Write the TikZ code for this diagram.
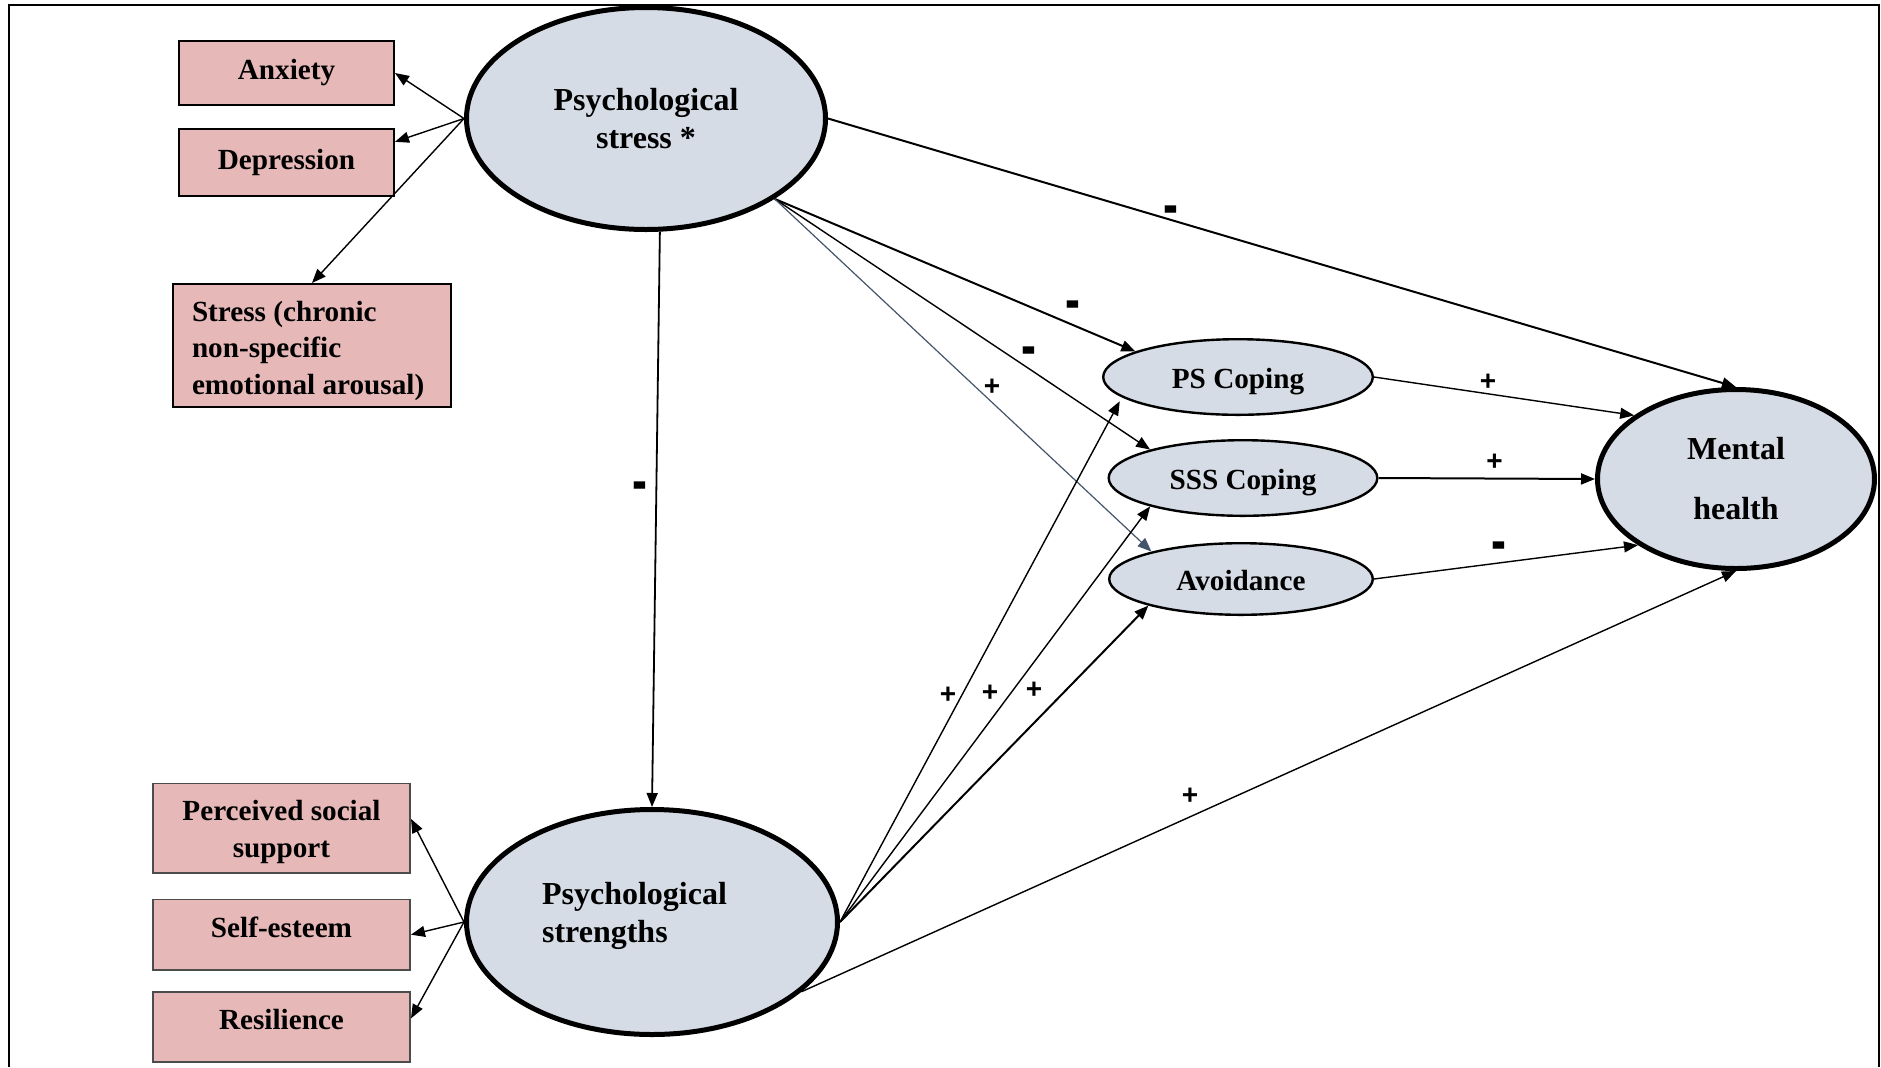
\documentclass[tikz,border=0pt]{standalone}
\usepackage{fontspec}
\usepackage{graphicx}
\setmainfont{Liberation Serif}
\newfontfamily\signfont{Liberation Sans}
\usetikzlibrary{shapes.geometric, arrows.meta, calc}
\definecolor{boxpink}{HTML}{E6B8B7}
\definecolor{latentfill}{HTML}{D6DCE5}
\definecolor{slate}{HTML}{44546A}
\newcommand\negsign{\scalebox{1.6}[2.2]{-}}

\begin{document}
\begin{tikzpicture}[x=0.5pt, y=-0.5pt,
  bigtext/.style={font=\fontsize{16}{19}\selectfont\bfseries},
  smalltext/.style={font=\fontsize{14.6}{18.5}\selectfont\bfseries},
  latent/.style={ellipse, draw=black, fill=latentfill, line width=2.5pt,
    inner sep=0pt, bigtext, align=center},
  coping/.style={ellipse, draw=black, fill=latentfill, line width=1.2pt,
    inner sep=0pt, smalltext, text height=11.8pt, text depth=0pt},
  indic/.style={rectangle, draw=black, fill=boxpink, line width=1.2pt,
    inner sep=0pt, smalltext, align=center},
  indicthin/.style={indic, draw=black!70, line width=0.8pt},
  link/.style={draw=black, line width=0.7pt, -{Triangle[length=7pt,width=5.5pt]}},
  linkbold/.style={link, line width=1pt},
  sign/.style={font={\signfont\fontsize{14}{14}\selectfont\bfseries}, inner sep=0pt},
  minussign/.style={sign, yshift=-3.5pt}
]
\useasboundingbox (0,0) rectangle (1881,1067);

% open frame (no bottom edge)
\draw[line width=1pt] (9,1067) |- (1879,5) -- (1879,1067);

% latent constructs
\node[latent, minimum width=179.5pt, minimum height=111pt] (pstress) at (646,118.5)
  {Psychological\\stress *};
\node[latent, minimum width=185.5pt, minimum height=112.5pt,
  label={[bigtext, align=left, xshift=-8.75pt, yshift=3pt]center:Psychological\\strengths}]
  (pstrength) at (652,922) {};
\node[latent, font=\fontsize{16}{30}\selectfont\bfseries,
  minimum width=138.5pt, minimum height=89.5pt] (mh) at (1736,479) {Mental\\health};

% coping strategies
\node[coping, minimum width=134.8pt, minimum height=37.8pt] (pscope) at (1238,377) {PS Coping};
\node[coping, minimum width=134.3pt, minimum height=37.8pt] (sss) at (1243,478) {SSS Coping};
\node[coping, minimum width=131.8pt, minimum height=35.8pt] (avoid) at (1241,579) {Avoidance};

% indicators of psychological stress
\node[indic, minimum width=107.3pt, minimum height=31.8pt] (anxiety) at (286.5,73) {Anxiety};
\node[indic, minimum width=107.3pt, minimum height=33.3pt] (depression) at (286.5,162.5) {Depression};
\node[indic, minimum width=138.8pt, minimum height=61.3pt,
  label={[font=\fontsize{14.6}{18.25}\selectfont\bfseries, align=flush left,
    text width=120pt, inner sep=0pt, yshift=-2.7pt]center:Stress (chronic\\non-specific\\emotional arousal)}]
  (stress) at (312,345.5) {};

% indicators of psychological strengths
\node[indicthin, minimum width=128.7pt, minimum height=44.7pt,
  label={[smalltext, align=center, yshift=-2pt]center:Perceived social\\support}]
  (perceived) at (281.5,828) {};
\node[indicthin, minimum width=128.7pt, minimum height=35.2pt,
  label={[smalltext, yshift=3.5pt]center:Self-esteem}] (selfesteem) at (281.5,934.7) {};
\node[indicthin, minimum width=128.7pt, minimum height=35.2pt,
  label={[smalltext, yshift=4pt]center:Resilience}] (resilience) at (281.5,1027) {};

% measurement paths
\draw[link] (pstress.west) -- (anxiety.east);
\draw[link] (pstress.west) -- ($(depression.north east)!0.2!(depression.south east)$);
\draw[link] (pstress.west) -- (stress.north);
\draw[link] (pstrength.west) -- ($(perceived.north east)!0.4!(perceived.south east)$);
\draw[link] (pstrength.west) -- (selfesteem.east);
\draw[link] (pstrength.west) -- ($(resilience.north east)!0.38!(resilience.south east)$);

% structural paths
\draw[link, line width=0.9pt] (pstress.-83) -- (pstrength.north);
\draw[linkbold] (pstress.east) -- (mh.north);
\draw[linkbold] (pstress.-32) -- (pscope.166);
\draw[link] (pstress.-32) -- (sss.163);
\draw[link, draw=slate, line width=0.6pt] (pstress.-32) -- (avoid.163);
\draw[link] (pscope.east) -- (mh.148);
\draw[linkbold] (sss.east) -- (mh.west);
\draw[link] (avoid.east) -- (mh.214);
\draw[link] (pstrength.east) -- ($(pscope.192)+(-9,1)$);
\draw[link] (pstrength.east) -- (sss.197);
\draw[linkbold] (pstrength.east) -- (avoid.196);
\draw[link] (pstrength.-25.6) -- (mh.south);

% signs of the paths
\node[minussign] (sgStressMH) at (1171,209) {\negsign};
\node[minussign] (sgStressPS) at (1073,304) {\negsign};
\node[minussign] (sgStressSSS) at (1029,350) {\negsign};
\node[sign] (sgStressAv) at (992,387) {+};
\node[minussign] (sgStressStr) at (640,485) {\negsign};
\node[sign] (sgPSMH) at (1488,382) {+};
\node[sign] (sgSSSMH) at (1494.5,462) {+};
\node[minussign] (sgAvMH) at (1499,545) {\negsign};
\node[sign] (sgStrPS) at (948,695) {+};
\node[sign] (sgStrSSS) at (990,693) {+};
\node[sign] (sgStrAv) at (1034,690) {+};
\node[sign] (sgStrMH) at (1190,796) {+};
\end{tikzpicture}
\end{document}
